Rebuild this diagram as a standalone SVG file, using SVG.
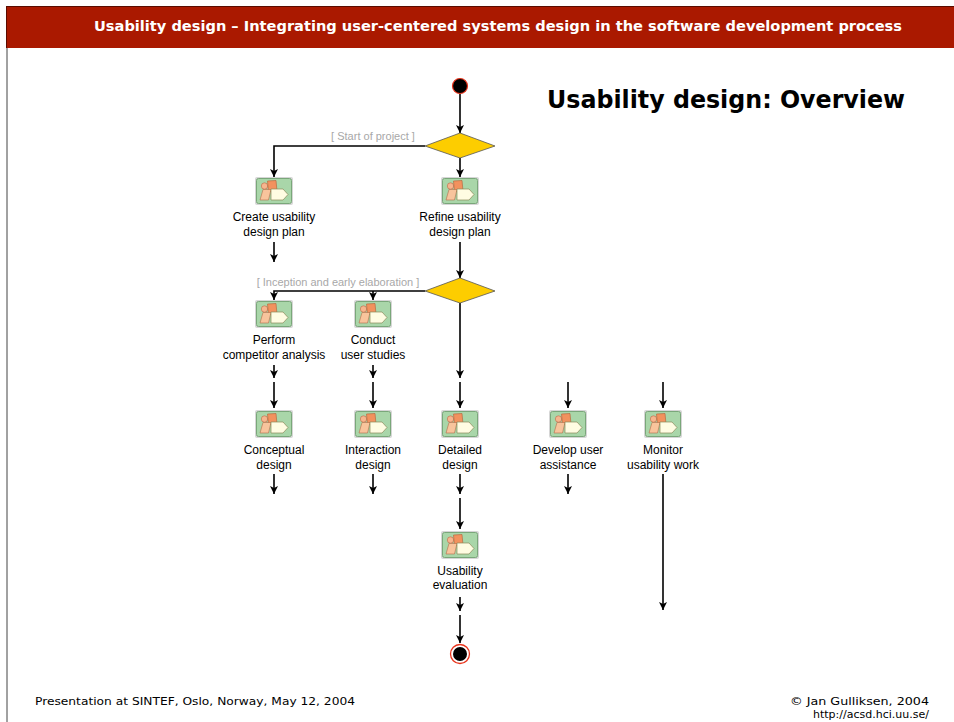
<svg xmlns="http://www.w3.org/2000/svg" xmlns:xlink="http://www.w3.org/1999/xlink" width="954" height="722" viewBox="0 0 954 722">
<style>
.lbl{font-family:"Liberation Sans",Arial,sans-serif;font-size:12px;fill:#000;text-anchor:middle}
.guard{font-family:"Liberation Sans",Arial,sans-serif;font-size:11px;fill:#a8a8a8;text-anchor:middle}
.conn{stroke:#000;stroke-width:1.6;fill:none}
.arr{marker-end:url(#ah)}
.foot{font-family:"DejaVu Sans",Verdana,sans-serif;font-size:11px;fill:#000}
</style>
<defs>
<marker id="ah" markerUnits="userSpaceOnUse" markerWidth="9" markerHeight="9" refX="8" refY="4" orient="auto">
<path d="M0,0 L8,4 L0,8 L2,4 z" fill="#000"/>
</marker>
<g id="icon">
<rect x="0" y="0" width="38" height="28" rx="2" fill="#d6d6d6"/>
<rect x="1.5" y="1.5" width="35" height="25" rx="2" fill="#a9d6a9" stroke="#7aa77a" stroke-width="1"/>
<circle cx="9.5" cy="9" r="3.2" fill="#f6b58e" stroke="#b86a48" stroke-width="0.6"/>
<polygon points="12.5,4 21,3.5 22,14 13.5,14.5" fill="#f2925e" stroke="#b06038" stroke-width="0.6"/>
<polygon points="8,12.5 16,12.5 13.5,23 5,23" fill="#f8c49c" stroke="#b06c4a" stroke-width="0.6"/>
<polygon points="16,12 28,12 33,17.5 28,23 16,23" fill="#fffce2" stroke="#8a8a5a" stroke-width="0.7"/>
</g>
</defs>
<rect x="0" y="0" width="954" height="722" fill="#fff"/>
<g id="frame">
<rect x="6" y="6" width="948" height="42" fill="#aa1900"/>
<line x1="6" y1="6.5" x2="954" y2="6.5" stroke="#5a0c00" stroke-width="1"/>
<line x1="6.5" y1="6" x2="6.5" y2="48" stroke="#5a0c00" stroke-width="1"/>
<line x1="7" y1="48" x2="7" y2="722" stroke="#444" stroke-width="1"/>
<text x="94" y="31" font-family="'DejaVu Sans',Verdana,sans-serif" font-weight="bold" font-size="14" fill="#fff" textLength="808" lengthAdjust="spacingAndGlyphs">Usability design – Integrating user-centered systems design in the software development process</text>
<text x="547" y="108" font-family="'DejaVu Sans',Verdana,sans-serif" font-weight="bold" font-size="24" fill="#000" textLength="358" lengthAdjust="spacingAndGlyphs">Usability design: Overview</text>
<text class="foot" x="35" y="705" textLength="320" lengthAdjust="spacingAndGlyphs">Presentation at SINTEF, Oslo, Norway, May 12, 2004</text>
<text class="foot" x="929" y="705" text-anchor="end" textLength="139" lengthAdjust="spacingAndGlyphs">© Jan Gulliksen, 2004</text>
<text class="foot" x="929" y="718" text-anchor="end" textLength="116" lengthAdjust="spacingAndGlyphs">http://acsd.hci.uu.se/</text>
</g>
<g id="connectors">
<path class="conn arr" d="M460,94 L460,133"/>
<path class="conn arr" d="M425,146 L274,146 L274,177"/>
<path class="conn arr" d="M460,158 L460,177"/>
<path class="conn arr" d="M274,242 L274,262"/>
<path class="conn arr" d="M460,242 L460,278"/>
<path class="conn arr" d="M425,291 L274,291 L274,300"/>
<path class="conn arr" d="M373,291 L373,300"/>
<path class="conn arr" d="M274,365 L274,378"/>
<path class="conn arr" d="M373,365 L373,378"/>
<path class="conn arr" d="M460,303 L460,378"/>
<path class="conn arr" d="M274,382 L274,408"/>
<path class="conn arr" d="M373,382 L373,408"/>
<path class="conn arr" d="M460,382 L460,408"/>
<path class="conn arr" d="M568,382 L568,408"/>
<path class="conn arr" d="M663,382 L663,408"/>
<path class="conn arr" d="M274,474 L274,494"/>
<path class="conn arr" d="M373,474 L373,494"/>
<path class="conn arr" d="M460,474 L460,494"/>
<path class="conn arr" d="M568,474 L568,494"/>
<path class="conn arr" d="M460,498 L460,529"/>
<path class="conn arr" d="M663,474 L663,610"/>
<path class="conn arr" d="M460,597 L460,611"/>
<path class="conn arr" d="M460,615 L460,643"/>
<text class="guard" x="373" y="140">[ Start of project ]</text>
<text class="guard" x="338" y="286">[ Inception and early elaboration ]</text>
</g>
<g id="start"><circle cx="460" cy="86" r="7.5" fill="#000" stroke="#e8341c" stroke-width="1.2"/></g>
<g id="decision1"><polygon points="460,133 495,146 460,158 425,146" fill="#fdcd00" stroke="#555" stroke-width="0.8"/></g>
<g id="decision2"><polygon points="460,278 495,291 460,303 425,291" fill="#fdcd00" stroke="#555" stroke-width="0.8"/></g>
<g id="create-plan"><use xlink:href="#icon" href="#icon" x="255" y="177"/><text class="lbl" x="274" y="221">Create usability</text><text class="lbl" x="274" y="236">design plan</text></g>
<g id="refine-plan"><use xlink:href="#icon" href="#icon" x="441" y="177"/><text class="lbl" x="460" y="221">Refine usability</text><text class="lbl" x="460" y="236">design plan</text></g>
<g id="competitor"><use xlink:href="#icon" href="#icon" x="255" y="300"/><text class="lbl" x="274" y="344">Perform</text><text class="lbl" x="274" y="359">competitor analysis</text></g>
<g id="user-studies"><use xlink:href="#icon" href="#icon" x="354" y="300"/><text class="lbl" x="373" y="344">Conduct</text><text class="lbl" x="373" y="359">user studies</text></g>
<g id="conceptual"><use xlink:href="#icon" href="#icon" x="255" y="410"/><text class="lbl" x="274" y="454">Conceptual</text><text class="lbl" x="274" y="469">design</text></g>
<g id="interaction"><use xlink:href="#icon" href="#icon" x="354" y="410"/><text class="lbl" x="373" y="454">Interaction</text><text class="lbl" x="373" y="469">design</text></g>
<g id="detailed"><use xlink:href="#icon" href="#icon" x="441" y="410"/><text class="lbl" x="460" y="454">Detailed</text><text class="lbl" x="460" y="469">design</text></g>
<g id="assistance"><use xlink:href="#icon" href="#icon" x="549" y="410"/><text class="lbl" x="568" y="454">Develop user</text><text class="lbl" x="568" y="469">assistance</text></g>
<g id="monitor"><use xlink:href="#icon" href="#icon" x="644" y="410"/><text class="lbl" x="663" y="454">Monitor</text><text class="lbl" x="663" y="469">usability work</text></g>
<g id="evaluation"><use xlink:href="#icon" href="#icon" x="441" y="531"/><text class="lbl" x="460" y="575">Usability</text><text class="lbl" x="460" y="589">evaluation</text></g>
<g id="end"><circle cx="460" cy="654" r="9.5" fill="#fff" stroke="#e8341c" stroke-width="1.3"/><circle cx="460" cy="654" r="7" fill="#000"/></g>
</svg>
